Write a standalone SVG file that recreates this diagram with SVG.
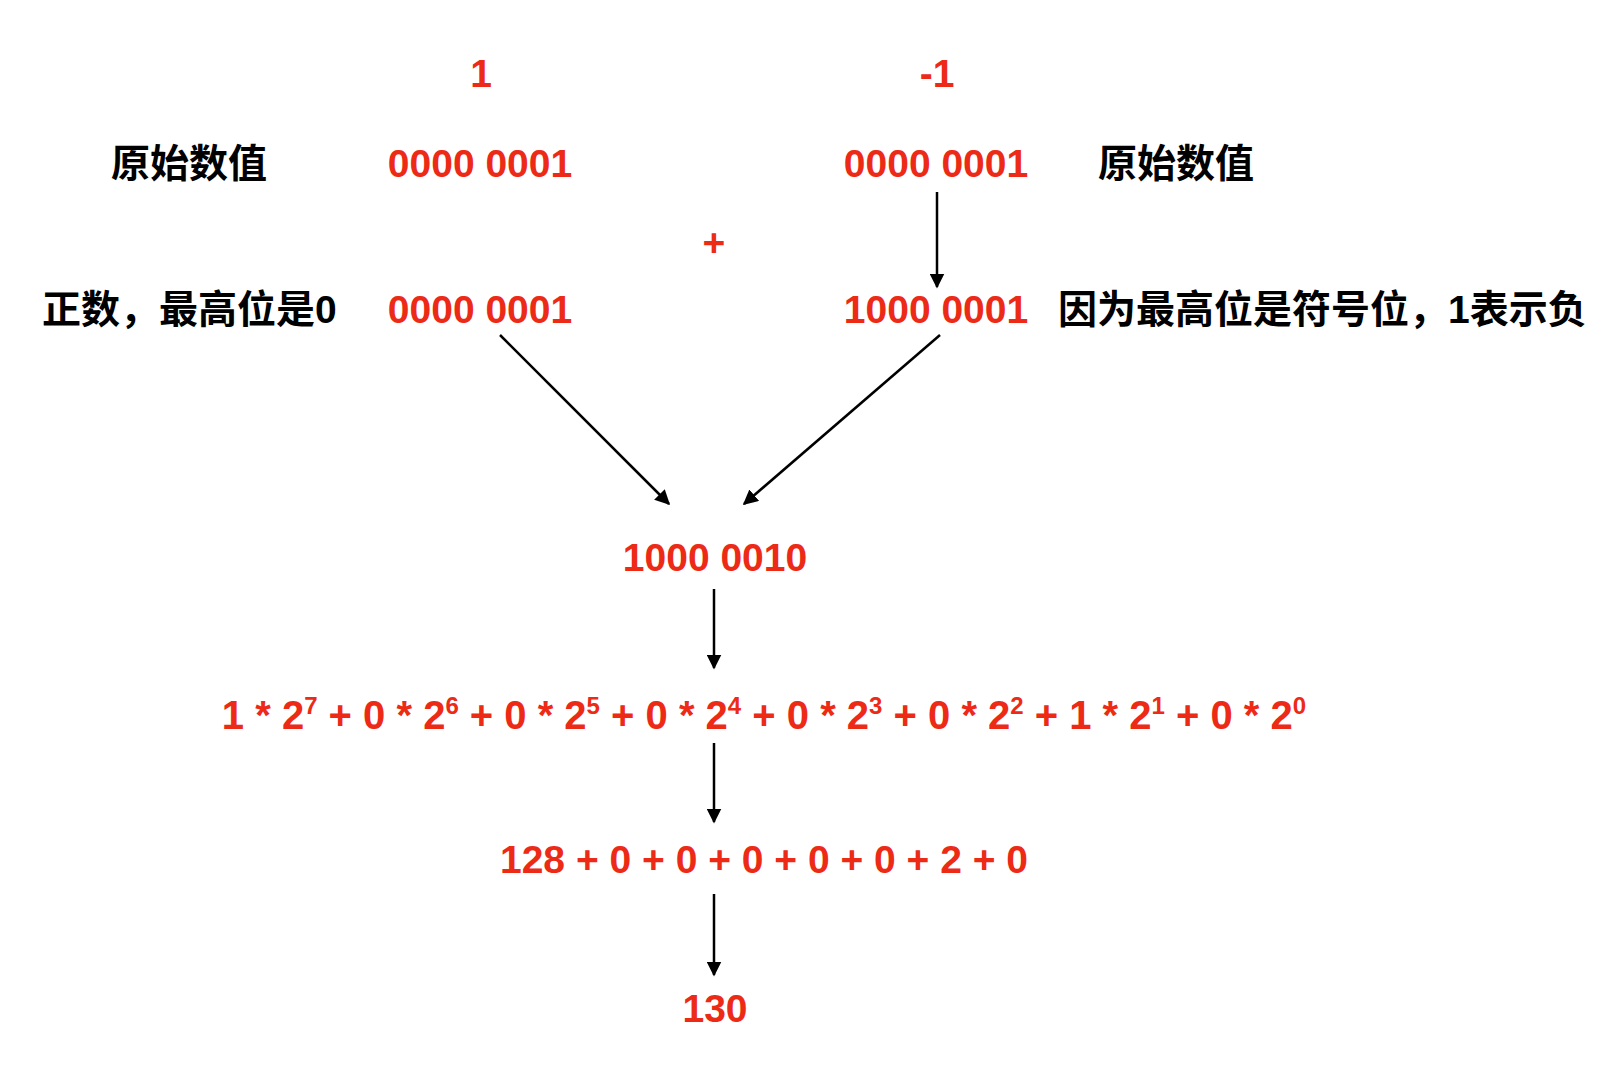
<svg xmlns="http://www.w3.org/2000/svg" width="1621" height="1069" viewBox="0 0 1621 1069">
<style>
.r{fill:#ec2a16;font-family:"Liberation Sans",Arial,sans-serif;font-weight:bold;font-size:39px}
.k{fill:#000;font-family:"Liberation Sans","Noto Sans CJK SC",sans-serif;font-weight:bold;font-size:39px}
.f{font-size:40px}
.s{font-size:24px}
.c{stroke:#000;stroke-width:2.5;fill:none;marker-end:url(#a)}
</style>
<defs><marker id="a" viewBox="0 0 10 10" refX="9" refY="5" markerWidth="6" markerHeight="6" orient="auto"><path d="M0,0L10,5L0,10z" fill="#000"/></marker></defs>
<rect width="1621" height="1069" fill="#fff"/>
<g id="n1"><text class="r" x="481" y="87" text-anchor="middle">1</text></g>
<g id="n2"><text class="r" x="937" y="87" text-anchor="middle">-1</text></g>
<g id="l1"><text class="k" x="111" y="177">原始数值</text></g>
<g id="b1"><text class="r" x="480" y="177" text-anchor="middle">0000 0001</text></g>
<g id="b2"><text class="r" x="936" y="177" text-anchor="middle">0000 0001</text></g>
<g id="l2"><text class="k" x="1098" y="177">原始数值</text></g>
<g id="plus"><text class="r" x="714" y="256" text-anchor="middle">+</text></g>
<g id="l3"><text class="k" x="42" y="323">正数，最高位是0</text></g>
<g id="b3"><text class="r" x="480" y="323" text-anchor="middle">0000 0001</text></g>
<g id="b4"><text class="r" x="936" y="323" text-anchor="middle">1000 0001</text></g>
<g id="l4"><text class="k" x="1058" y="323">因为最高位是符号位，1表示负</text></g>
<g id="sum"><text class="r" x="715" y="571" text-anchor="middle">1000 0010</text></g>
<g id="f"><text class="r f" x="764" y="729" text-anchor="middle">1 * 2<tspan class="s" dy="-15">7</tspan><tspan dy="15"> + 0 * 2</tspan><tspan class="s" dy="-15">6</tspan><tspan dy="15"> + 0 * 2</tspan><tspan class="s" dy="-15">5</tspan><tspan dy="15"> + 0 * 2</tspan><tspan class="s" dy="-15">4</tspan><tspan dy="15"> + 0 * 2</tspan><tspan class="s" dy="-15">3</tspan><tspan dy="15"> + 0 * 2</tspan><tspan class="s" dy="-15">2</tspan><tspan dy="15"> + 1 * 2</tspan><tspan class="s" dy="-15">1</tspan><tspan dy="15"> + 0 * 2</tspan><tspan class="s" dy="-15">0</tspan></text></g>
<g id="g"><text class="r" x="764" y="873" text-anchor="middle">128 + 0 + 0 + 0 + 0 + 0 + 2 + 0</text></g>
<g id="res"><text class="r" x="715" y="1022" text-anchor="middle">130</text></g>
<g id="connectors">
<line class="c" x1="937" y1="192" x2="937" y2="287"/>
<line class="c" x1="500" y1="335" x2="669" y2="504"/>
<line class="c" x1="940" y1="335" x2="744" y2="504"/>
<line class="c" x1="714" y1="589" x2="714" y2="668"/>
<line class="c" x1="714" y1="743" x2="714" y2="822"/>
<line class="c" x1="714" y1="894" x2="714" y2="975"/>
</g>
</svg>
